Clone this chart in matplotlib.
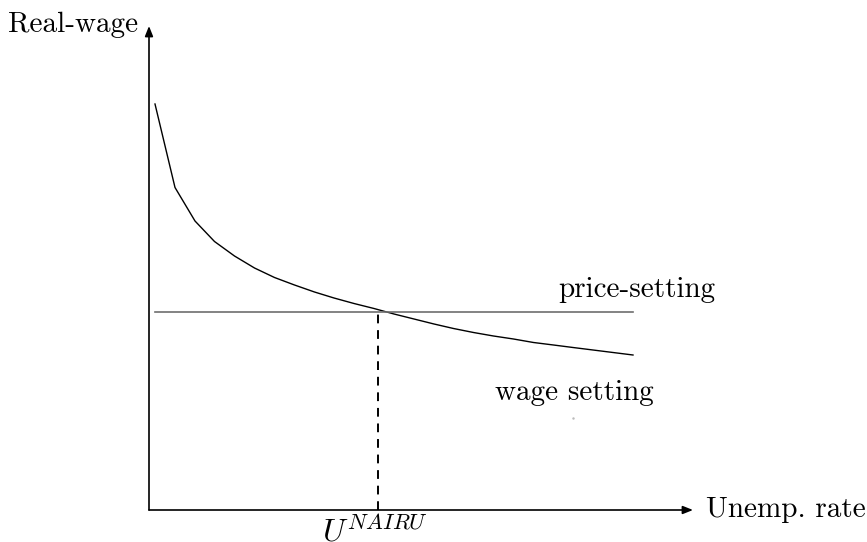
import matplotlib
matplotlib.use("Agg")
import matplotlib.pyplot as plt

plt.rcParams['mathtext.fontset'] = 'cm'

# wage-setting curve (arbitrary units)
ws_x = [0.12, 0.52, 0.92, 1.31, 1.71, 2.11, 2.51, 2.91, 3.31, 3.70, 4.10, 4.50, 4.90,
        5.30, 5.70, 6.09, 6.49, 6.89, 7.29, 7.69, 8.09, 8.48, 8.88, 9.28, 9.68]
ws_y = [8.12, 6.45, 5.78, 5.37, 5.08, 4.84, 4.65, 4.50, 4.36, 4.24, 4.13, 4.03, 3.92,
        3.82, 3.72, 3.63, 3.55, 3.48, 3.42, 3.35, 3.30, 3.25, 3.20, 3.15, 3.10]

# price-setting line (flat)
ps_x = [0.12, 9.68]
ps_y = [3.97, 3.97]

u_nairu = 4.58
x_max, y_max = 10.88, 9.68

fig = plt.figure(figsize=(8.67, 5.42), dpi=100)
ax = fig.add_axes([0, 0, 1, 1])
ax.set_xlim(-2.98, 14.36)
ax.set_ylim(-0.64, 10.2)
ax.axis('off')

# axes with arrows
arrow = dict(arrowstyle='-|>,head_length=0.5,head_width=0.2', lw=1.2, color='black',
             mutation_scale=12, shrinkA=0, shrinkB=0)
ax.annotate('', xy=(x_max, 0), xytext=(0, 0), arrowprops=arrow)
ax.annotate('', xy=(0, y_max), xytext=(0, 0), arrowprops=arrow)

ax.plot(ws_x, ws_y, color='black', lw=1.0)
ax.plot(ps_x, ps_y, color='#6e6e6e', lw=1.2)
ax.plot([u_nairu, u_nairu], [0, ps_y[0]], color='black', lw=1.4, linestyle=(0, (4.5, 3.5)))

# stray dot in the original
ax.plot([8.48], [1.84], marker='.', color='#bbbbbb', markersize=1.5)

font = dict(family='cmr10', fontsize=21)
ax.text(-0.22, 9.56, 'Real-wage', ha='right', va='baseline', **font)
ax.text(11.14, -0.14, 'Unemp. rate', ha='left', va='baseline', **font)
ax.text(8.18, 4.26, 'price-setting', ha='left', va='baseline', **font)
ax.text(6.92, 2.2, 'wage setting', ha='left', va='baseline', **font)
ax.text(u_nairu - 0.05, -0.62, r'$U^{NAIRU}$', ha='center', va='baseline', fontsize=23)

fig.savefig('out.png', dpi=100)
